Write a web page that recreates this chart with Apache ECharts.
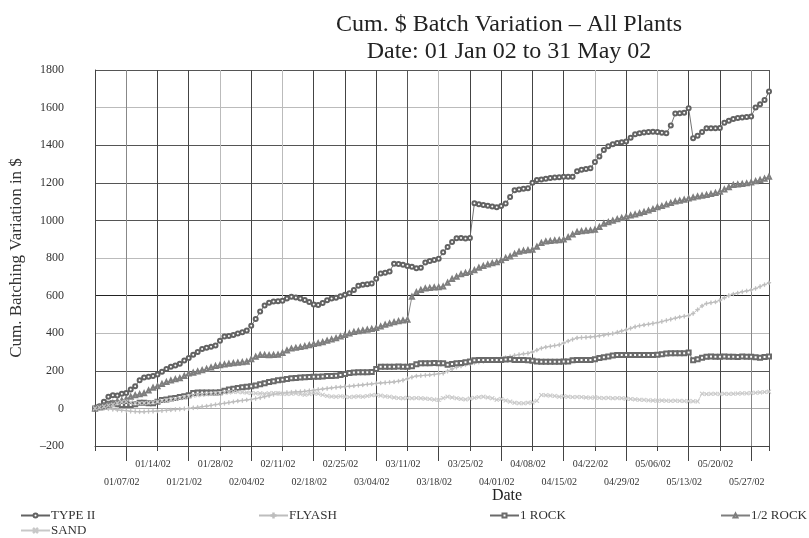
<!DOCTYPE html>
<html>
<head>
<meta charset="utf-8">
<title>Cum. $ Batch Variation</title>
<script src="https://cdn.jsdelivr.net/npm/echarts@6/dist/echarts.min.js"></script>
<style>
  html, body { margin: 0; padding: 0; background: #fff; }
  #chart { width: 809px; height: 538px; }
</style>
</head>
<body>
<div id="chart"></div>
<script>
// one value per day, day 0 = 01 Jan 02
var typeII = [0, 12, 35, 62, 70, 68, 78, 82, 100, 118, 150, 165, 168, 172, 180, 195, 210, 222, 228, 238,
	255, 268, 285, 300, 316, 322, 328, 334, 360, 382, 385, 390, 398, 405, 415, 440, 475, 515, 548, 562,
	568, 570, 572, 585, 594, 590, 584, 576, 566, 552, 550, 560, 575, 585, 588, 596, 604, 612, 630, 652,
	658, 660, 664, 690, 718, 722, 728, 770, 768, 764, 758, 754, 746, 748, 776, 784, 789, 796, 830, 858,
	885, 905, 906, 904, 906, 1091, 1086, 1082, 1078, 1074, 1070, 1076, 1090, 1125, 1160, 1165, 1168, 1171, 1200, 1215,
	1218, 1222, 1225, 1228, 1230, 1232, 1232, 1232, 1262, 1270, 1274, 1277, 1310, 1340, 1375, 1395, 1405, 1412, 1416, 1420,
	1440, 1458, 1464, 1468, 1470, 1472, 1470, 1466, 1464, 1505, 1568, 1570, 1572, 1596, 1437, 1450, 1470, 1490, 1490, 1490,
	1492, 1520, 1530, 1540, 1545, 1548, 1550, 1553, 1600, 1618, 1640, 1685];

var flyash = [0, 2, 0, -2, -5, -8, -10, -12, -15, -17, -18, -18, -16, -15, -14, -12, -10, -8, -6, -4,
	-2, 0, 3, 6, 9, 12, 16, 20, 24, 27, 31, 35, 39, 42, 45, 48, 52, 57, 62, 68,
	74, 79, 82, 84, 86, 88, 89, 91, 94, 97, 100, 103, 106, 109, 112, 114, 116, 118, 120, 123,
	125, 128, 130, 133, 135, 137, 139, 141, 145, 150, 158, 166, 172, 174, 176, 178, 181, 184, 187, 198,
	210, 219, 225, 232, 238, 242, 246, 250, 254, 258, 262, 266, 270, 275, 282, 286, 290, 293, 300, 310,
	320, 326, 330, 334, 338, 348, 358, 367, 375, 377, 378, 380, 382, 386, 390, 394, 398, 405, 412, 418,
	426, 434, 440, 444, 448, 452, 456, 462, 468, 474, 480, 486, 490, 494, 505, 525, 545, 558, 562, 566,
	575, 588, 600, 608, 614, 620, 625, 630, 638, 648, 658, 668];

var rock1 = [0, 8, 15, 25, 27, 22, 18, 18, 18, 22, 30, 30, 28, 27, 35, 45, 48, 52, 55, 60,
	65, 70, 82, 84, 84, 84, 84, 84, 86, 94, 100, 104, 108, 112, 115, 118, 122, 128, 134, 140,
	145, 150, 153, 157, 160, 162, 164, 166, 167, 168, 169, 170, 172, 173, 174, 178, 183, 188, 191, 192,
	192, 192, 193, 210, 222, 222, 222, 222, 223, 222, 222, 224, 235, 240, 240, 240, 241, 240, 240, 232,
	236, 240, 241, 245, 250, 256, 257, 257, 257, 257, 257, 258, 260, 261, 258, 257, 257, 256, 254, 250,
	248, 248, 248, 248, 248, 249, 250, 256, 257, 257, 257, 258, 262, 268, 272, 276, 282, 284, 284, 284,
	284, 284, 284, 284, 284, 284, 285, 288, 292, 293, 293, 293, 294, 298, 256, 262, 270, 275, 276, 275,
	275, 276, 275, 275, 274, 276, 275, 275, 272, 270, 274, 276];

var rockHalf = [0, 5, 10, 18, 28, 38, 42, 50, 62, 70, 75, 80, 95, 110, 118, 130, 140, 148, 155, 160,
	172, 185, 190, 196, 203, 210, 218, 225, 230, 234, 237, 240, 243, 246, 248, 262, 275, 284, 284, 283,
	284, 285, 295, 308, 318, 322, 326, 331, 336, 342, 346, 352, 360, 367, 373, 382, 390, 398, 406, 410,
	414, 418, 422, 427, 436, 445, 452, 458, 464, 468, 472, 594, 618, 630, 638, 641, 643, 645, 648, 668,
	688, 700, 714, 720, 725, 735, 748, 757, 765, 772, 778, 788, 800, 808, 822, 833, 838, 841, 844, 860,
	880, 888, 890, 893, 895, 898, 910, 925, 938, 942, 945, 947, 950, 965, 982, 990, 998, 1006, 1013, 1020,
	1026, 1032, 1038, 1045, 1052, 1060, 1070, 1076, 1084, 1092, 1100, 1105, 1110, 1117, 1122, 1127, 1131, 1135, 1140, 1146,
	1153, 1165, 1176, 1188, 1191, 1194, 1197, 1202, 1208, 1215, 1222, 1232];

var sand = [0, 5, 10, 16, 20, 28, 34, 36, 32, 28, 27, 28, 30, 33, 36, 40, 44, 46, 50, 55,
	60, 64, 68, 70, 72, 75, 77, 80, 82, 84, 85, 87, 88, 86, 84, 82, 80, 80, 78, 80,
	82, 80, 78, 76, 78, 80, 76, 72, 76, 80, 78, 72, 66, 63, 62, 64, 62, 60, 62, 64,
	62, 66, 70, 71, 68, 64, 62, 58, 55, 54, 56, 54, 55, 54, 52, 50, 47, 45, 55, 62,
	58, 54, 50, 48, 52, 56, 60, 62, 58, 54, 46, 50, 42, 36, 30, 28, 27, 30, 32, 40,
	71, 70, 68, 66, 62, 64, 62, 60, 61, 60, 58, 57, 58, 56, 55, 56, 54, 55, 54, 52,
	50, 48, 46, 45, 43, 42, 41, 42, 41, 40, 41, 40, 39, 38, 38, 37, 78, 76, 77, 78,
	76, 78, 77, 78, 79, 80, 80, 82, 83, 85, 87, 89];

// date labels, two staggered rows under the axis
var upperTickDays = [13, 27, 41, 55, 69, 83, 97, 111, 125, 139];
var upperTickLabels = ['01/14/02', '01/28/02', '02/11/02', '02/25/02', '03/11/02', '03/25/02', '04/08/02', '04/22/02', '05/06/02', '05/20/02'];
var lowerTickDays = [6, 20, 34, 48, 62, 76, 90, 104, 118, 132, 146];
var lowerTickLabels = ['01/07/02', '01/21/02', '02/04/02', '02/18/02', '03/04/02', '03/18/02', '04/01/02', '04/15/02', '04/29/02', '05/13/02', '05/27/02'];
var longTickDays = [7, 21, 35, 49, 63, 77, 91, 105, 119, 133, 147];

var seriesNames = ['TYPE II', 'FLYASH', '1 ROCK', '1/2 ROCK', 'SAND'];

var SERIF = '"Liberation Serif", "DejaVu Serif", serif';
var crossPath = 'path://M0,1L1,0L5,4L9,0L10,1L6,5L10,9L9,10L5,6L1,10L0,9L4,5Z';
var plusPath = 'path://M4.4,0H5.6V4.4H10V5.6H5.6V10H4.4V5.6H0V4.4H4.4Z';

function toPoints(values) { // [day, value] pairs
	var pts = [];
	for (var i = 0; i < values.length; i++) {
		pts.push([i, values[i]]);
	}
	return pts;
}

function labelFor(days, labels) {
	return function(v) {
		var idx = days.indexOf(Math.round(v));
		return idx == -1 ? '' : labels[idx];
	};
}

function makeSeries(name, values, color, symbol, size) {
	return {
		name: name,
		type: 'line',
		data: toPoints(values),
		symbol: symbol,
		symbolSize: size,
		showSymbol: true,
		lineStyle: { color: color, width: 0.9 },
		itemStyle: { color: color, borderColor: color, borderWidth: 0.7 },
		z: 3
	};
}

function makeLegend(name, left, top) {
	return {
		data: [name],
		left: left,
		top: top,
		itemWidth: 29,
		itemHeight: 5,
		padding: 0,
		textStyle: { fontFamily: SERIF, fontSize: 13, color: '#333', padding: [0, 0, 0, -4] }
	};
}

var myChart = echarts.init(document.getElementById('chart'), null, { renderer: 'canvas' });

var option = {
	animation: false,
	backgroundColor: '#fff',
	title: [
		{
			text: 'Cum. $ Batch Variation – All Plants\nDate: 01 Jan 02 to 31 May 02',
			left: 504,
			top: 6,
			textAlign: 'center',
			textStyle: { fontFamily: SERIF, fontSize: 24, fontWeight: 'normal', color: '#222', lineHeight: 27 }
		},
		{
			text: 'Date',
			left: 502,
			top: 483,
			textAlign: 'center',
			textStyle: { fontFamily: SERIF, fontSize: 16, fontWeight: 'normal', color: '#222' }
		}
	],
	legend: [
		makeLegend(seriesNames[0], 20, 509),
		makeLegend(seriesNames[1], 258, 509),
		makeLegend(seriesNames[2], 489, 509),
		makeLegend(seriesNames[3], 720, 509),
		makeLegend(seriesNames[4], 20, 524)
	],
	grid: { left: 93, right: 40, top: 70, bottom: 92 },
	xAxis: [
		{
			type: 'value',
			min: 0,
			max: 151,
			interval: 7,
			axisLine: { onZero: false, lineStyle: { color: '#444', width: 1 } },
			axisTick: { show: true, length: 5, lineStyle: { color: '#444' } },
			axisLabel: { show: false },
			splitLine: {
				show: true,
				lineStyle: {
					width: 1,
					color: ['#555', '#888', '#444', '#444', '#bbb', '#444', '#bbb', '#444', '#444', '#444', '#555', '#bbb',
						'#444', '#444', '#444', '#444', '#bbb', '#444', '#bbb', '#444', '#444', '#888', '#555']
				}
			}
		},
		{
			type: 'value',
			min: 0,
			max: 151,
			position: 'bottom',
			axisLine: { show: false, onZero: false },
			axisTick: { show: true, length: 15, customValues: longTickDays, lineStyle: { color: '#444' } },
			axisLabel: {
				show: true,
				customValues: upperTickDays,
				margin: 13,
				fontFamily: SERIF,
				fontSize: 10,
				color: '#333',
				formatter: labelFor(upperTickDays, upperTickLabels)
			},
			splitLine: { show: false }
		},
		{
			type: 'value',
			min: 0,
			max: 151,
			position: 'bottom',
			axisLine: { show: false, onZero: false },
			axisTick: { show: false },
			axisLabel: {
				show: true,
				customValues: lowerTickDays,
				margin: 31,
				fontFamily: SERIF,
				fontSize: 10,
				color: '#333',
				formatter: labelFor(lowerTickDays, lowerTickLabels)
			},
			splitLine: { show: false }
		}
	],
	yAxis: {
		type: 'value',
		min: -200,
		max: 1800,
		interval: 200,
		name: 'Cum. Batching Variation in $',
		nameLocation: 'middle',
		nameGap: 70,
		nameTextStyle: { fontFamily: SERIF, fontSize: 17, color: '#333' },
		axisLine: { show: true, lineStyle: { color: '#444' } },
		axisTick: { show: false },
		axisLabel: {
			margin: 31,
			fontFamily: SERIF,
			fontSize: 12,
			color: '#333',
			formatter: function(v) { return v < 0 ? '–' + Math.abs(v) : String(v); }
		},
		splitLine: {
			show: true,
			lineStyle: {
				width: 1,
				color: ['#555', '#aaa', '#555', '#bbb', '#222', '#bbb', '#555', '#555', '#555', '#bbb', '#555']
			}
		}
	},
	series: [
		makeSeries(seriesNames[0], typeII, '#626262', 'emptyCircle', 4),
		makeSeries(seriesNames[1], flyash, '#bdbdbd', plusPath, 4),
		makeSeries(seriesNames[2], rock1, '#6a6a6a', 'emptyRect', 4),
		makeSeries(seriesNames[3], rockHalf, '#7e7e7e', 'emptyTriangle', 4),
		makeSeries(seriesNames[4], sand, '#c8c8c8', crossPath, 4)
	]
};

myChart.setOption(option);
</script>
</body>
</html>
